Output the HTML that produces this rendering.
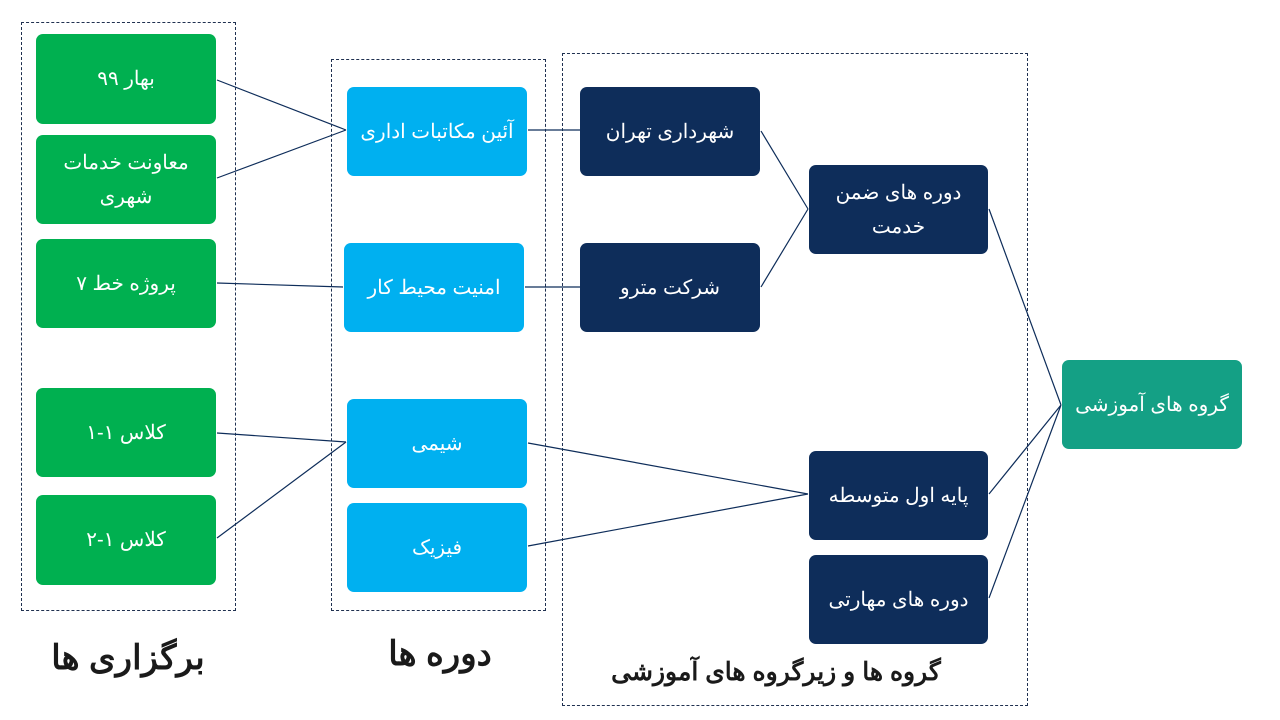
<!DOCTYPE html>
<html><head><meta charset="utf-8"><style>
body{margin:0;width:1280px;height:720px;background:#fff;position:relative;overflow:hidden;font-family:"Liberation Sans","Noto Sans CJK SC",sans-serif}
.b{position:absolute;border-radius:7px;color:#fff;display:flex;align-items:center;justify-content:center;text-align:center;font-size:20px;line-height:34px;direction:rtl}
.g{background:#00b050}.l{background:#00b0f0}.n{background:#0e2d5a}.t{background:#14a085}
.d{position:absolute;border:1px dashed #1f3050}
.h{position:absolute;font-weight:bold;color:#1a1a1a;direction:rtl;text-align:center}
</style></head><body>
<div class="d" style="left:21px;top:22px;width:213px;height:587px"></div>
<div class="d" style="left:331px;top:59px;width:213px;height:550px"></div>
<div class="d" style="left:562px;top:53px;width:464px;height:651px"></div>
<svg style="position:absolute;left:0;top:0" width="1280" height="720" stroke="#0e2d5a" stroke-width="1.2" fill="none">
<path d="M217 80L346 130M217 178L346 130M217 283L343 287M217 433L346 442M217 538L346 442M528 130L580 130M525 287L580 287M761 131L808 209M761 287L808 209M528 443L808 494M528 546L808 494M989 209L1061 405M989 494L1061 405M989 598L1061 405"/>
</svg>
<div class="b g" style="left:36px;top:34px;width:180px;height:90px">بهار ۹۹</div>
<div class="b g" style="left:36px;top:135px;width:180px;height:89px">معاونت خدمات<br>شهری</div>
<div class="b g" style="left:36px;top:239px;width:180px;height:89px">پروژه خط ۷</div>
<div class="b g" style="left:36px;top:388px;width:180px;height:89px">کلاس ۱-۱</div>
<div class="b g" style="left:36px;top:495px;width:180px;height:90px">کلاس ۱-۲</div>
<div class="b l" style="left:347px;top:87px;width:180px;height:89px">آئین مکاتبات اداری</div>
<div class="b l" style="left:344px;top:243px;width:180px;height:89px">امنیت محیط کار</div>
<div class="b l" style="left:347px;top:399px;width:180px;height:89px">شیمی</div>
<div class="b l" style="left:347px;top:503px;width:180px;height:89px">فیزیک</div>
<div class="b n" style="left:580px;top:87px;width:180px;height:89px">شهرداری تهران</div>
<div class="b n" style="left:580px;top:243px;width:180px;height:89px">شرکت مترو</div>
<div class="b n" style="left:809px;top:165px;width:179px;height:89px">دوره های ضمن<br>خدمت</div>
<div class="b n" style="left:809px;top:451px;width:179px;height:89px">پایه اول متوسطه</div>
<div class="b n" style="left:809px;top:555px;width:179px;height:89px">دوره های مهارتی</div>
<div class="b t" style="left:1062px;top:360px;width:180px;height:89px">گروه های آموزشی</div>
<div class="h" style="left:28px;top:635px;width:200px;font-size:34px;line-height:46px">برگزاری ها</div>
<div class="h" style="left:340px;top:631px;width:200px;font-size:34px;line-height:46px">دوره ها</div>
<div class="h" style="left:576px;top:655px;width:400px;font-size:25px;line-height:34px">گروه ها و زیرگروه های آموزشی</div>
</body></html>
